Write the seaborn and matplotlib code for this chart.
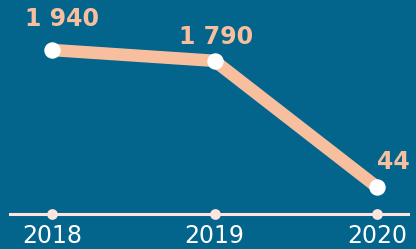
import pandas as pd
import numpy as np
import matplotlib.pyplot as plt
import seaborn as sns

years = [2018, 2019, 2020]
values = [1940, 1790, 44]
value_labels = ["1 940", "1 790", "44"]

bg = "#03648c"
peach = "#f8bf9f"
axis_col = "#fde4dc"

df = pd.DataFrame({"year": years, "value": values})

sns.set_style("white")
plt.rcParams['font.family'] = ['DejaVu Sans']

fig = plt.figure(figsize=(4.16, 2.49), dpi=100)
fig.patch.set_facecolor(bg)
ax = fig.add_axes([10/416, 35/249, 398/416, 214/249])
ax.set_facecolor(bg)

sns.lineplot(data=df, x="year", y="value", ax=ax, color=peach, linewidth=9,
             solid_capstyle="butt", zorder=2)
ax.scatter(df["year"], df["value"], s=140, color="white", zorder=3, linewidths=0)

# label offsets in points
offsets = [(7, 22), (1, 17), (12, 18)]
for x, y, t, off in zip(years, values, value_labels, offsets):
    ax.annotate(t, (x, y), xytext=off, textcoords="offset points",
                ha="center", va="center", fontsize=17, fontweight="bold",
                color=peach)

# tick dots on axis
ax.scatter(years, [-330] * 3, s=60, color=axis_col, zorder=4, clip_on=False, linewidths=0)

ax.set_xlim(2017.7415, 2020.1908)
ax.set_ylim(-330, 2632)
for s in ["top", "right", "left"]:
    ax.spines[s].set_visible(False)
ax.spines["bottom"].set_color(axis_col)
ax.spines["bottom"].set_linewidth(2.2)
ax.set_yticks([])
ax.set_xticks(years)
ax.set_xticklabels([str(y) for y in years], color="white", fontsize=17)
ax.tick_params(axis="x", length=0, pad=7)
ax.set_xlabel("")
ax.set_ylabel("")

fig.savefig("out.png", dpi=100, facecolor=bg)
